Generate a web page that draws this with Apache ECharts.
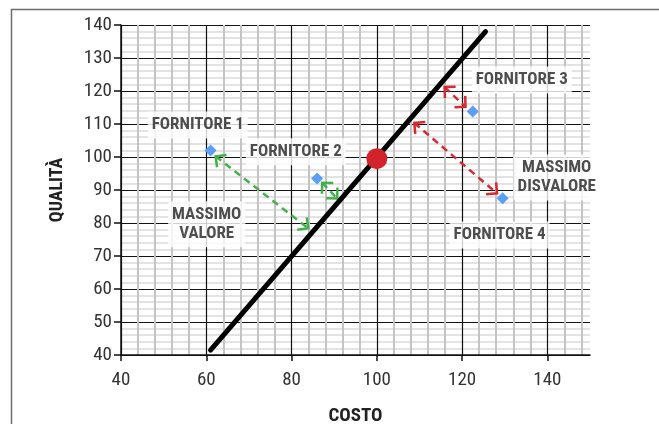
<!DOCTYPE html>
<html>
<head>
<meta charset="utf-8">
<script src="https://cdn.jsdelivr.net/npm/echarts@6/dist/echarts.min.js"></script>
<style>
  html, body { margin: 0; padding: 0; background: #fff; }
  #chart { width: 659px; height: 424px; }
</style>
</head>
<body>
<div id="chart"></div>
<script>
// value line (costo -> qualità)
const valueLine = [[61, 41.5], [125.5, 138]];
// reference point on the line
const refPoint = [[100, 99.5]];
// suppliers: [costo, qualità]
const suppliers = [[61, 102], [86, 93.5], [122.5, 113.8], [129.5, 87.5]];
// dashed double arrows: [x1, y1, x2, y2]
const greenArrows = [[62.2, 100.2], [83.9, 78.4], [87.2, 92.2], [90.7, 87.4]];
const redArrows = [[115.9, 121.2], [120.8, 115.2], [108.8, 110.3], [128.2, 89]];
// text annotations: [x, y, text]
const notes = [
  [58, 109.7, 'FORNITORE 1'],
  [81, 101.6, 'FORNITORE 2'],
  [134, 123.3, 'FORNITORE 3'],
  [128.8, 76.4, 'FORNITORE 4'],
  [60.1, 79.6, 'MASSIMO\nVALORE'],
  [142.2, 93.8, 'MASSIMO\nDISVALORE']
];
const xTicks = [40, 60, 80, 100, 120, 140];
const yTicks = [40, 140, 10];

const FONT = "'Roboto Condensed', 'Liberation Sans Narrow', 'DejaVu Sans Condensed', Roboto, sans-serif";

function pairUp(arr) {
  const out = [];
  for (let i = 0; i < arr.length; i += 2) out.push([arr[i][0], arr[i][1], arr[i + 1][0], arr[i + 1][1]]);
  return out;
}

function arrowRenderer(color) {
  return function (params, api) {
    const a = api.coord([api.value(0), api.value(1)]);
    const b = api.coord([api.value(2), api.value(3)]);
    const ang = Math.atan2(b[1] - a[1], b[0] - a[0]);
    const L = 11, spread = Math.PI / 4;
    function head(p, dir) {
      return [
        [p[0] + L * Math.cos(dir + spread), p[1] + L * Math.sin(dir + spread)],
        p,
        [p[0] + L * Math.cos(dir - spread), p[1] + L * Math.sin(dir - spread)]
      ];
    }
    const st = { stroke: color, lineWidth: 2.5, fill: null };
    return {
      type: 'group',
      children: [
        { type: 'line', shape: { x1: a[0], y1: a[1], x2: b[0], y2: b[1] },
          style: Object.assign({ lineDash: [7, 5] }, st) },
        { type: 'polyline', shape: { points: head(a, ang) }, style: st },
        { type: 'polyline', shape: { points: head(b, ang + Math.PI) }, style: st }
      ]
    };
  };
}

const chart = echarts.init(document.getElementById('chart'));

const options = {
  backgroundColor: '#fff',
  animation: false,
  grid: { left: 121, top: 25, width: 469, height: 330, outerBoundsMode: 'none', containLabel: false },
  graphic: [{
    type: 'rect', left: 9, top: 7, z: -10,
    shape: { width: 700, height: 500 },
    style: { fill: null, stroke: '#6e6e6e', lineWidth: 1.5 }
  }],
  xAxis: {
    type: 'value', min: 40, max: 150, interval: 20,
    name: 'COSTO', nameLocation: 'middle', nameGap: 52,
    nameTextStyle: { fontFamily: FONT, fontWeight: 'bold', fontSize: 19, color: '#222' },
    axisLine: { show: true, lineStyle: { color: '#111', width: 1.5 } },
    axisTick: { show: true, length: 6, customValues: xTicks, lineStyle: { color: '#111', width: 1.5 } },
    axisLabel: { fontFamily: FONT, fontSize: 19, color: '#333', margin: 16, customValues: xTicks },
    splitLine: { show: true, lineStyle: { color: '#111', width: 1.2 } },
    minorTick: { show: false, splitNumber: 5 },
    minorSplitLine: { show: true, lineStyle: { color: '#c4c4c4', width: 2 } }
  },
  yAxis: {
    type: 'value', min: yTicks[0], max: yTicks[1], interval: yTicks[2],
    name: 'QUALITÀ', nameLocation: 'middle', nameGap: 55,
    nameTextStyle: { fontFamily: FONT, fontWeight: 'bold', fontSize: 18, color: '#222' },
    axisLine: { show: true, lineStyle: { color: '#111', width: 1.5 } },
    axisTick: { show: true, length: 7, lineStyle: { color: '#111', width: 1.5 } },
    axisLabel: { fontFamily: FONT, fontSize: 19, color: '#333', margin: 9 },
    splitLine: { show: true, lineStyle: { color: '#111', width: 1.2 } },
    minorTick: { show: false, splitNumber: 5 },
    minorSplitLine: { show: true, lineStyle: { color: '#dadada', width: 1.5 } }
  },
  series: [
    {
      type: 'line', data: valueLine, symbol: 'none', z: 5,
      lineStyle: { color: '#000', width: 5, cap: 'round' }
    },
    {
      type: 'custom', data: pairUp(greenArrows), z: 4,
      renderItem: arrowRenderer('#43b04a')
    },
    {
      type: 'custom', data: pairUp(redArrows), z: 4,
      renderItem: arrowRenderer('#d42a33')
    },
    {
      type: 'scatter', data: suppliers, symbol: 'diamond', symbolSize: 12, z: 6,
      itemStyle: { color: '#5a9ef5', opacity: 1 }
    },
    {
      type: 'scatter', data: refPoint, symbolSize: 21, z: 7,
      itemStyle: { color: '#d2232c', opacity: 1 }
    },
    {
      type: 'scatter', data: notes, symbolSize: 0, z: 3,
      label: {
        show: true, position: 'inside', formatter: p => p.data[2],
        fontFamily: FONT, fontWeight: 'bold', fontSize: 17, lineHeight: 19,
        color: '#222', backgroundColor: '#fff', padding: [4, 4]
      }
    }
  ]
};

chart.setOption(options);
</script>
</body>
</html>
